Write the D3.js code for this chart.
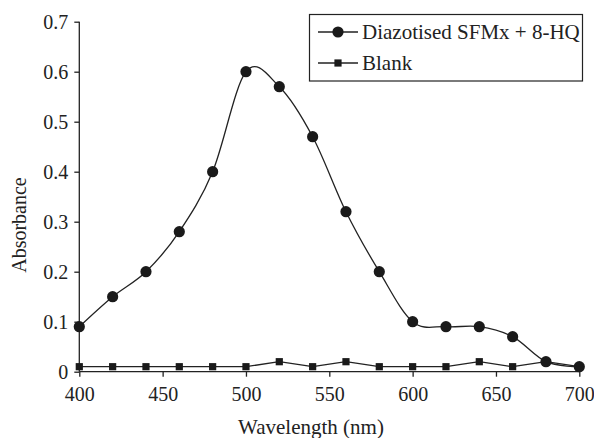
<!DOCTYPE html>
<html><head><meta charset="utf-8">
<script src="https://cdn.jsdelivr.net/npm/d3@7"></script>
<style>body{margin:0;background:#fff}svg{display:block}</style>
</head><body>
<script>
const wavelengths = [400,420,440,460,480,500,520,540,560,580,600,620,640,660,680,700];
const sampleValues = [0.09,0.15,0.20,0.28,0.40,0.60,0.57,0.47,0.32,0.20,0.10,0.09,0.09,0.07,0.02,0.01];
const blankValues = [0.01,0.01,0.01,0.01,0.01,0.01,0.02,0.01,0.02,0.01,0.01,0.01,0.02,0.01,0.02,0.01];
const xTicks = [400,450,500,550,600,650,700];
const yTicks = [0,0.1,0.2,0.3,0.4,0.5,0.6,0.7];
const seriesNames = ["Diazotised SFMx + 8-HQ","Blank"];

const W=594,H=438;
const font = "'Liberation Serif','DejaVu Serif',serif";
const svg = d3.select("body").append("svg").attr("width",W).attr("height",H);
const x = d3.scaleLinear().domain([400,700]).range([79.3,579.3]);
const y = d3.scaleLinear().domain([0,0.7]).range([371.7,21.7]);

const xAxis = svg.append("g").attr("transform",`translate(0,${y(0)})`)
  .call(d3.axisBottom(x).tickValues(xTicks).tickSize(5).tickPadding(10).tickFormat(d3.format("d")));
const yAxis = svg.append("g").attr("transform",`translate(${x(400)},0)`)
  .call(d3.axisLeft(y).tickValues(yTicks).tickSize(5).tickPadding(6).tickFormat(d=>d===0?"0":d3.format(".1f")(d)));
[xAxis,yAxis].forEach(a=>{
  a.selectAll("path,line").attr("stroke","#222").attr("stroke-width",1.3);
  a.selectAll("text").attr("font-family",font).attr("font-size",20).attr("fill","#222");
});
yAxis.select(".domain").attr("d",`M0,${y(0.7)}H0V${y(0)}`);
xAxis.select(".domain").attr("d",`M${x(400)},0H${x(700)}`);

const sData = wavelengths.map((w,i)=>[w,sampleValues[i]]);
const bData = wavelengths.map((w,i)=>[w,blankValues[i]]);

svg.append("path").datum(bData).attr("fill","none").attr("stroke","#222").attr("stroke-width",1.3)
  .attr("d",d3.line().x(d=>x(d[0])).y(d=>y(d[1])));
svg.selectAll(".sq").data(bData).enter().append("rect")
  .attr("x",d=>x(d[0])-3.6).attr("y",d=>y(d[1])-3.6).attr("width",7.2).attr("height",7.2).attr("fill","#1a1a1a");

svg.append("path").datum(sData).attr("fill","none").attr("stroke","#222").attr("stroke-width",1.3)
  .attr("d",d3.line().curve(d3.curveCardinal.tension(0)).x(d=>x(d[0])).y(d=>y(d[1])));
svg.selectAll(".ci").data(sData).enter().append("circle")
  .attr("cx",d=>x(d[0])).attr("cy",d=>y(d[1])).attr("r",5.6).attr("fill","#1a1a1a");

svg.append("text").attr("font-family",font).attr("font-size",21).attr("fill","#222")
  .attr("text-anchor","middle").attr("x",311).attr("y",434).text("Wavelength (nm)");
svg.append("text").attr("font-family",font).attr("font-size",20).attr("fill","#222")
  .attr("text-anchor","middle").attr("transform","translate(25.5,225) rotate(-90)").text("Absorbance");

// legend
const lg = svg.append("g");
lg.append("rect").attr("x",309.5).attr("y",14.5).attr("width",273).attr("height",66.5)
  .attr("fill","#fff").attr("stroke","#222").attr("stroke-width",1.2);
const rows=[32,63];
rows.forEach((ry,i)=>{
  lg.append("line").attr("x1",318).attr("x2",358).attr("y1",ry).attr("y2",ry).attr("stroke","#222").attr("stroke-width",1.3);
  if(i===0) lg.append("circle").attr("cx",338).attr("cy",ry).attr("r",5.6).attr("fill","#1a1a1a");
  else lg.append("rect").attr("x",334.4).attr("y",ry-3.6).attr("width",7.2).attr("height",7.2).attr("fill","#1a1a1a");
  lg.append("text").attr("x",362).attr("y",ry+7).attr("font-family",font).attr("font-size",21).attr("fill","#222").text(seriesNames[i]);
});
</script>
</body></html>
